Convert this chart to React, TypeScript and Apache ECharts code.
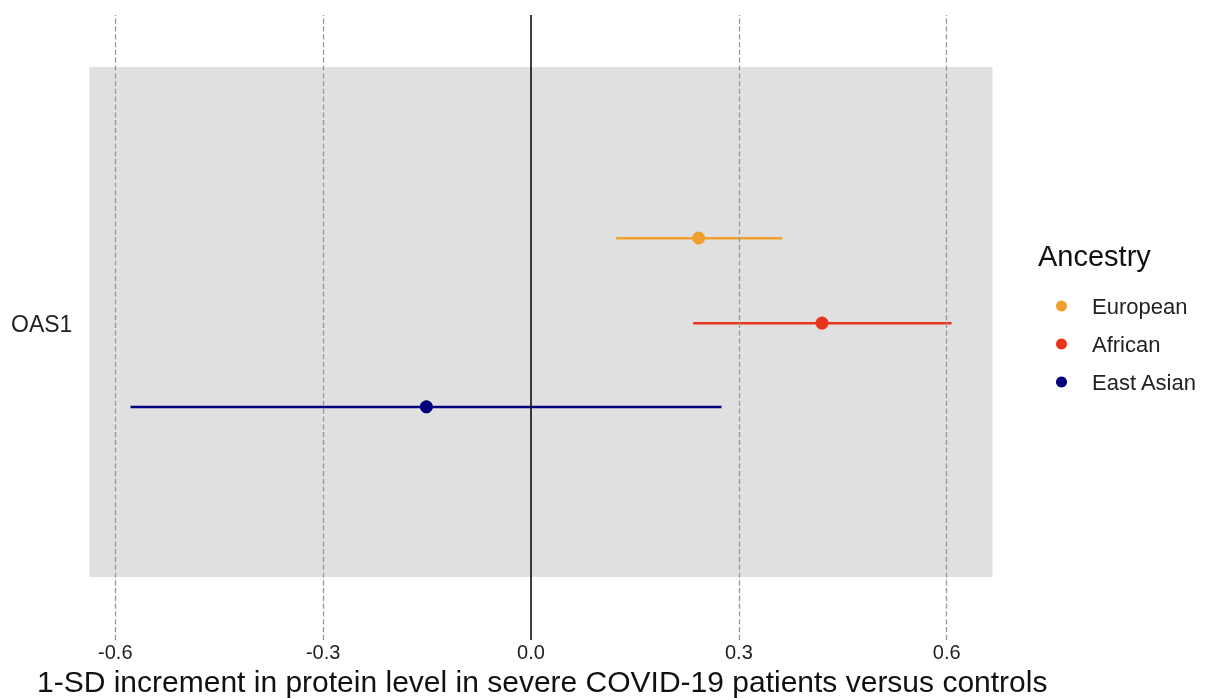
import React, { useEffect, useRef } from 'react';
import * as echarts from 'echarts';

// estimates and 95% CI
const ancestries = ['European', 'African', 'East Asian'];
const colors = ['#F0A030', '#E8341C', '#00007F'];
const estimates = [0.242, 0.42, -0.151];
const lower = [0.123, 0.234, -0.578];
const upper = [0.363, 0.607, 0.275];
// row positions on a 0..1 vertical scale
const rowY = [0.643, 0.507, 0.373];
const tickValues = [-0.6, -0.3, 0.0, 0.3, 0.6];

const App: React.FC = () => {
	const chartRef = useRef<HTMLDivElement>(null);

	useEffect(() => {
		if (!chartRef.current) return;
		const chart = echarts.init(chartRef.current, null, { renderer: 'svg' });
		const font = 'Liberation Sans, Arial, sans-serif';

		const series: any[] = [];
		ancestries.forEach((name, i) => {
			series.push({
				name,
				type: 'line',
				data: [[lower[i], rowY[i]], [upper[i], rowY[i]]],
				symbol: 'none',
				lineStyle: { color: colors[i], width: 2.5 },
				itemStyle: { color: colors[i] },
				z: 3
			});
			series.push({
				name,
				type: 'scatter',
				data: [[estimates[i], rowY[i]]],
				symbol: 'circle',
				symbolSize: 13,
				itemStyle: { color: colors[i], opacity: 1 },
				z: 4
			});
		});
		// background panel and reference lines
		series.push({
			type: 'line',
			data: [],
			markArea: {
				silent: true,
				itemStyle: { color: '#E0E0E0' },
				data: [[{ coord: [-0.6375, 0.917] }, { coord: [0.666, 0.101] }]]
			},
			markLine: {
				silent: true,
				symbol: 'none',
				label: { show: false },
				data: tickValues.map(v => ({
					xAxis: v,
					lineStyle: v === 0
						? { color: '#000', type: 'solid', width: 1.5 }
						: { color: '#999', type: 'dashed', width: 1.3 }
				}))
			},
			z: 1
		});

		chart.setOption({
			animation: false,
			textStyle: { fontFamily: font },
			grid: { left: 46, width: 970, top: 15, bottom: 58 },
			xAxis: {
				type: 'value',
				min: -0.7,
				max: 0.7,
				interval: 0.1,
				axisLine: { show: false },
				axisTick: { show: false },
				splitLine: { show: false },
				axisLabel: {
					fontSize: 20,
					color: '#222',
					margin: 2,
					formatter: (v: number) => {
						const k = Math.round(v * 10);
						return k % 3 === 0 ? (k / 10).toFixed(1) : '';
					}
				}
			},
			yAxis: {
				type: 'value',
				min: 0,
				max: 1,
				show: false
			},
			legend: {
				orient: 'vertical',
				left: 1051,
				top: 290,
				itemGap: 16,
				icon: 'circle',
				itemWidth: 11,
				itemHeight: 11,
				data: ancestries,
				textStyle: { fontSize: 22, color: '#222', padding: [0, 0, 0, 20] }
			},
			graphic: [
				{ type: 'text', left: 1038, top: 241, style: { text: 'Ancestry', fontSize: 29, fill: '#111', fontFamily: font } },
				{ type: 'text', left: 11, top: 312, style: { text: 'OAS1', fontSize: 23, fill: '#222', fontFamily: font } },
				{ type: 'text', left: 37, top: 666, style: { text: '1-SD increment in protein level in severe COVID-19 patients versus controls', fontSize: 30, fill: '#111', fontFamily: font } }
			],
			series
		});
		return () => chart.dispose();
	}, []);

	return <div ref={chartRef} style={{ position: 'fixed', left: 0, top: 0, width: 1209, height: 698 }} />;
};

export default App;
